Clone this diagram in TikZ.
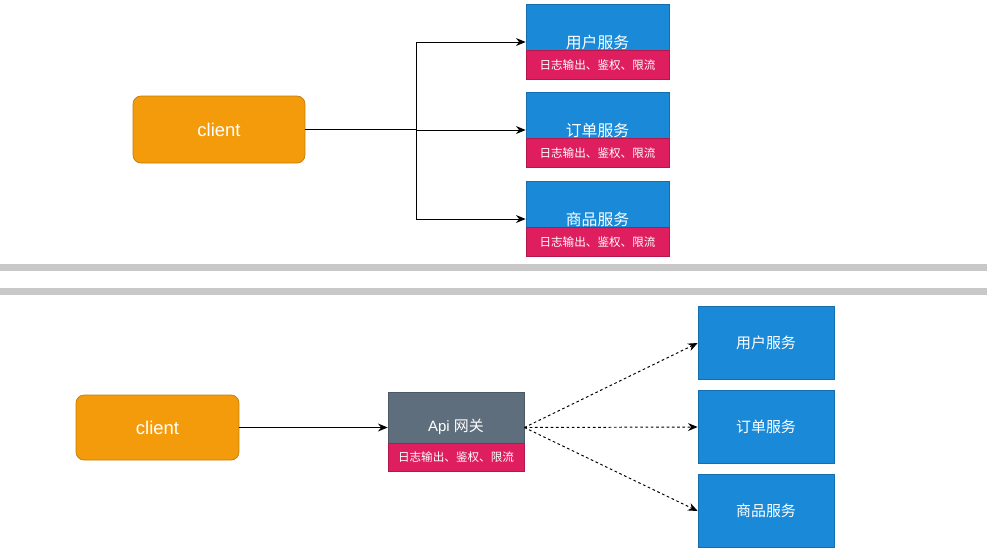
\documentclass[tikz,border=0pt]{standalone}
\usepackage{fontspec}
\setmainfont{Liberation Sans}
\newfontfamily\cjk{Noto Sans CJK SC}
\usetikzlibrary{%
  arrows,%
  arrows.meta,%
  positioning,% wg. " of "
  calc%
}
\definecolor{clientorange}{HTML}{F39B0B}
\definecolor{svcblue}{HTML}{1A8AD8}
\definecolor{tagpink}{HTML}{DE1E5E}
\definecolor{gwgray}{HTML}{5F6E7D}
\definecolor{bargray}{HTML}{C8C8C8}

\begin{document}
\begin{tikzpicture}[
  x=0.02cm, y=-0.02cm,
  >={Stealth[length=5.5pt,width=4.5pt]},
  line width=0.55pt,
  client/.style={draw=clientorange!80!black, line width=0.4pt, fill=clientorange,
    rounded corners=0.16cm, text=white, inner sep=0pt,
    font=\fontsize{10.5}{12}\selectfont},
  svcbox/.style={draw=svcblue!80!black, line width=0.4pt, fill=svcblue,
    minimum width=2.86cm, minimum height=1.5cm, inner sep=0pt},
  svcname/.style={text=white, inner sep=0pt, font=\cjk\fontsize{9}{11}\selectfont},
  tagbox/.style={draw=tagpink!80!black, line width=0.4pt, fill=tagpink, text=white,
    inner sep=0pt, font=\cjk\fontsize{6.6}{8}\selectfont},
  plainsvc/.style={draw=svcblue!80!black, line width=0.4pt, fill=svcblue, text=white,
    minimum width=2.72cm, minimum height=1.45cm, inner sep=0pt,
    font=\cjk\fontsize{8.5}{10}\selectfont},
]
\useasboundingbox[fill=white] (0,0) rectangle (987,559);

% direct calls
\node[client, minimum width=3.44cm, minimum height=1.34cm] (cl1) at (219,129.5) {client};
\foreach \n/\y/\t in {1/42/用户服务,2/130/订单服务,3/219/商品服务} {
  \node[svcbox] (svc\n) at (597.5,\y) {};
  \node[tagbox, minimum width=2.86cm, minimum height=0.58cm, anchor=south] (tag\n) at (svc\n.south) {日志输出、鉴权、限流};
  \node[svcname] (name\n) at (597.5,\y) {\t};
}
\coordinate (split) at (416,129.5);
\coordinate (splittop) at (split |- svc1.west);
\coordinate (splitbot) at (split |- svc3.west);
\draw (cl1.east) -- (split);
\draw (splittop) -- (splitbot);
\foreach \n in {1,2,3} {
  \draw[->] (split |- svc\n.west) -- (svc\n.west);
}

\fill[bargray] (0,264) rectangle (987,271);
\fill[bargray] (0,288) rectangle (987,295);

% via gateway
\node[client, minimum width=3.26cm, minimum height=1.3cm] (cl2) at (157.5,427.5) {client};
\node[draw=gwgray!80!black, line width=0.4pt, fill=gwgray, minimum width=2.72cm,
  minimum height=1.58cm, inner sep=0pt] (gw) at (456,431.5) {};
\node[tagbox, minimum width=2.72cm, minimum height=0.56cm, anchor=south] (gwtag) at (gw.south) {日志输出、鉴权、限流};
\node[text=white, inner sep=0pt, font=\fontsize{8.5}{10}\selectfont] (gwname) at (456,427) {Api {\cjk 网关}};
\coordinate (gwin) at (gw.west |- cl2.east);
\coordinate (gwout) at (gw.east |- cl2.east);
\draw[->] (cl2.east) -- (gwin);
\foreach \n/\y/\t in {1/343/用户服务,2/427/订单服务,3/511/商品服务} {
  \node[plainsvc] (api\n) at (766,\y) {\t};
  \draw[->, dash pattern=on 1.5pt off 1.5pt] (gwout) -- (api\n.west);
}

\end{tikzpicture}
\end{document}
